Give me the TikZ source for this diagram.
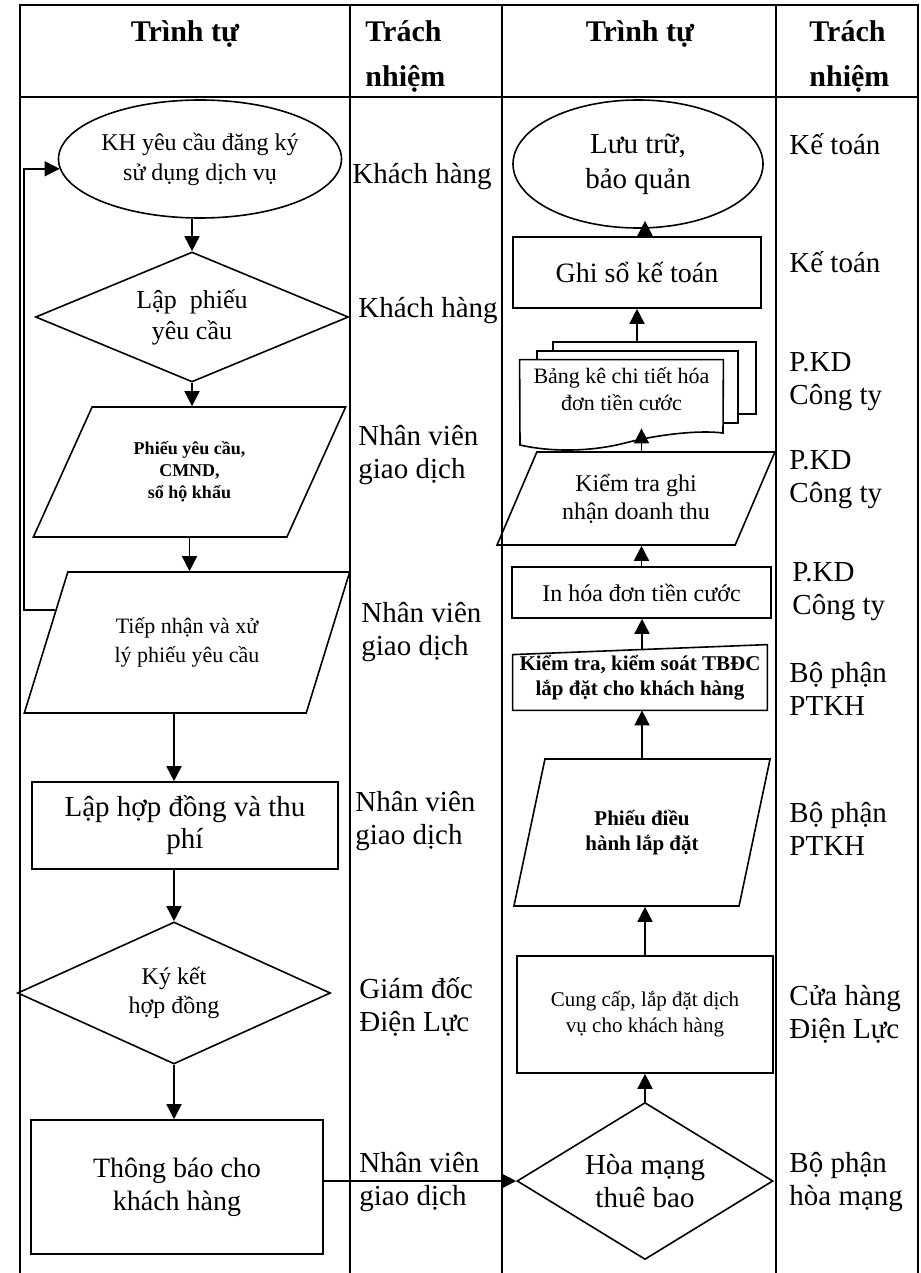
\documentclass[tikz,border=0pt]{standalone}
\usepackage{fontspec}
\setmainfont{Liberation Serif}
\usetikzlibrary{shapes.geometric, arrows.meta, calc}

\newcommand{\fsz}[2]{\fontsize{#1}{#2}\selectfont}

\begin{document}
\begin{tikzpicture}[
        x=0.5pt, y=-0.5pt, % coordinates are pixels of the scanned page
        grid/.style = {line width=1pt}, % table rules
        sheet/.style = {line width=0.8pt}, % outlines drawn by hand
        arr/.style = {line width=0.8pt, -{Triangle[length=7.5pt, width=7.5pt]}},
        box/.style = {draw, line width=0.8pt, inner sep=0pt, align=center}, % basic block
        oval/.style = {box, ellipse},
        rhomb/.style = {box, diamond},
        lean/.style = {box, trapezium, trapezium stretches=true},
        plain/.style = {inner sep=0pt, align=center},
        resp/.style = {anchor=west, align=left, inner sep=0pt, font=\fsz{14.5}{16.5}}, % who is responsible
        head/.style = {inner sep=0pt, align=left, font=\fsz{15}{22.5}\bfseries},
    ]

    \useasboundingbox (0,0) rectangle (920,1273);

    % table
    \draw[grid] (20,1273) -- (20,5) -- (918,5) -- (918,1273);
    \draw[grid] (20,97) -- (918,97);
    \foreach \x in {350,502,776} \draw[grid] (\x,5) -- (\x,1273);

    \node[head, anchor=base] (h1) at (185,42) {Trình tự};
    \node[head, anchor=base west] (h2) at (365,87) {Trách\\nhiệm};
    \node[head, anchor=base] (h3) at (640,42) {Trình tự};
    \node[head, anchor=base west] (h4) at (809,87) {Trách\\nhiệm};

    % left column
    \node[oval, minimum width=141.5pt, minimum height=59pt, font=\fsz{12}{15}] (kh) at (200,159) {KH yêu cầu đăng ký\\sử dụng dịch vụ};
    \node[rhomb, aspect=2.4, minimum width=156.5pt, minimum height=65pt, font=\fsz{13}{15.5}] (lap) at (192,317) {Lập~ phiếu\\yêu cầu};
    \node[lean, trapezium left angle=61, trapezium right angle=119, minimum width=157.5pt, minimum height=65pt, font=\fsz{9}{11}\bfseries] (phieu) at (189.5,472) {Phiếu yêu cầu,\\CMND,\\sổ hộ khẩu};
    \node[lean, trapezium left angle=62, trapezium right angle=118, minimum width=163pt, minimum height=70.5pt, font=\fsz{11}{14.5}] (tiep) at (187,642.5) {Tiếp nhận và xử\\lý phiếu yêu cầu};
    \node[box, minimum width=153pt, minimum height=43.5pt, font=\fsz{14.5}{16}] (hd) at (185,825.5) {Lập hợp đồng và thu\\phí};
    \node[rhomb, aspect=2.2, minimum width=156.5pt, minimum height=71pt, font=\fsz{12}{14.5}] (kyket) at (174,993) {Ký kết\\hợp đồng};
    \node[box, minimum width=146pt, minimum height=67pt, font=\fsz{14}{16.5}] (tb) at (177,1187) {Thông báo cho\\khách hàng};

    % right column
    \node[oval, minimum width=125pt, minimum height=64pt, font=\fsz{14.5}{17.5}] (luu) at (638,164) {Lưu trữ,\\bảo quản};
    \node[box, minimum width=124pt, minimum height=35.5pt, font=\fsz{14}{16}] (ghiso) at (637,272.5) {Ghi sổ kế toán};
    \node[plain, minimum width=101.5pt, minimum height=29pt, font=\fsz{11}{13.5}] (bangke) at (621.5,389) {Bảng kê chi tiết hóa\\đơn tiền cước};
    \node[lean, trapezium left angle=59, trapezium right angle=121, minimum width=139pt, minimum height=46.5pt, font=\fsz{12}{14}] (kt) at (636,498.5) {Kiểm tra ghi\\nhận doanh thu};
    \node[box, minimum width=129.5pt, minimum height=25.5pt, font=\fsz{12}{14}] (inhd) at (641.5,592.5) {In hóa đơn tiền cước};
    \node[plain, minimum width=127pt, minimum height=32.5pt, font=\fsz{10.5}{12.5}\bfseries] (ks) at (640,677.5) {Kiểm tra, kiểm soát TBĐC\\lắp đặt cho khách hàng};
    \node[lean, trapezium left angle=68, trapezium right angle=112, minimum width=129pt, minimum height=73.5pt, font=\fsz{10.5}{12.5}\bfseries] (pdh) at (642,832.5) {Phiếu điều\\hành lắp đặt};
    \node[box, minimum width=128pt, minimum height=58.5pt, font=\fsz{10.5}{13}] (cc) at (645,1014.5) {Cung cấp, lắp đặt dịch\\vụ cho khách hàng};
    \node[rhomb, aspect=1.63, minimum width=128pt, minimum height=78.5pt, font=\fsz{14.5}{16.5}] (hm) at (645,1181) {Hòa mạng\\thuê bao};

    % stacked documents and manual input
    \draw[sheet] (553,351) -- (553,342) -- (756,342) -- (756,414) -- (738,414);
    \draw[sheet] (537,360) -- (537,351) -- (738,351) -- (738,423) -- (723,423);
    \draw[sheet] (bangke.north west) -- (bangke.north east) -- (723,433)
        .. controls (700,430) and (660,434) .. (625,443)
        .. controls (590,452) and (550,452) .. (520,445) -- cycle;
    \draw[sheet] (ks.south west) -- ([yshift=-5pt]ks.north west) -- (ks.north east) -- (ks.south east) -- cycle;

    % arrows
    \draw[arr] (kh.south -| lap.north) -- (lap.north);
    \draw[arr] (lap.south) -- (lap.south |- phieu.north);
    \draw[arr] (phieu.south) -- (phieu.south |- tiep.north);
    \draw[arr] (tiep.south -| kyket.north) -- (hd.north -| kyket.north);
    \draw[arr] (hd.south -| kyket.north) -- (kyket.north);
    \draw[arr] (kyket.south) -- (kyket.south |- tb.north);
    \draw[arr] (tb.east |- hm.west) -- (hm.west);

    \coordinate (fb) at ($(tiep.top left corner)!0.27!(tiep.bottom left corner)$);
    \coordinate (rail) at (24,0);
    \draw[arr] (fb) -- (fb -| rail) |- (kh.184);

    \draw[arr] (hm.north) -- (hm.north |- cc.south);
    \draw[arr] (cc.north) -- (cc.north |- pdh.south);
    \draw[arr] (pdh.north) -- (pdh.north |- ks.south);
    \draw[arr, shorten <=-2.5pt] (ks.north -| pdh.north) -- (inhd.south -| pdh.north);
    \draw[arr] (inhd.north) -- (inhd.north |- kt.south);
    \draw[arr, shorten >=5pt] (kt.north -| inhd.north) -- (bangke.south -| inhd.north);
    \draw[arr, shorten <=9pt] (bangke.north -| ghiso.south) -- (ghiso.south);
    \draw[arr, shorten >=-4pt] (ghiso.north -| cc.north) -- (luu.south -| cc.north);

    % responsibility
    \node[resp] (r1) at (352,177) {Khách hàng};
    \node[resp] (r2) at (358,311) {Khách hàng};
    \node[resp] (r3) at (358,455) {Nhân viên\\giao dịch};
    \node[resp] (r4) at (361,632) {Nhân viên\\giao dịch};
    \node[resp] (r5) at (355,821) {Nhân viên\\giao dịch};
    \node[resp] (r6) at (359,1007) {Giám đốc\\Điện Lực};
    \node[resp] (r7) at (359,1182) {Nhân viên\\giao dịch};

    \node[resp] (s1) at (789,144) {Kế toán};
    \node[resp] (s2) at (789,262) {Kế toán};
    \node[resp] (s3) at (789,382) {P.KD\\Công ty};
    \node[resp] (s4) at (789,480) {P.KD\\Công ty};
    \node[resp] (s5) at (792,592) {P.KD\\Công ty};
    \node[resp] (s6) at (789,689) {Bộ phận\\PTKH};
    \node[resp] (s7) at (789,829) {Bộ phận\\PTKH};
    \node[resp] (s8) at (789,1014) {Cửa hàng\\Điện Lực};
    \node[resp] (s9) at (789,1182) {Bộ phận\\hòa mạng};
\end{tikzpicture}
\end{document}
